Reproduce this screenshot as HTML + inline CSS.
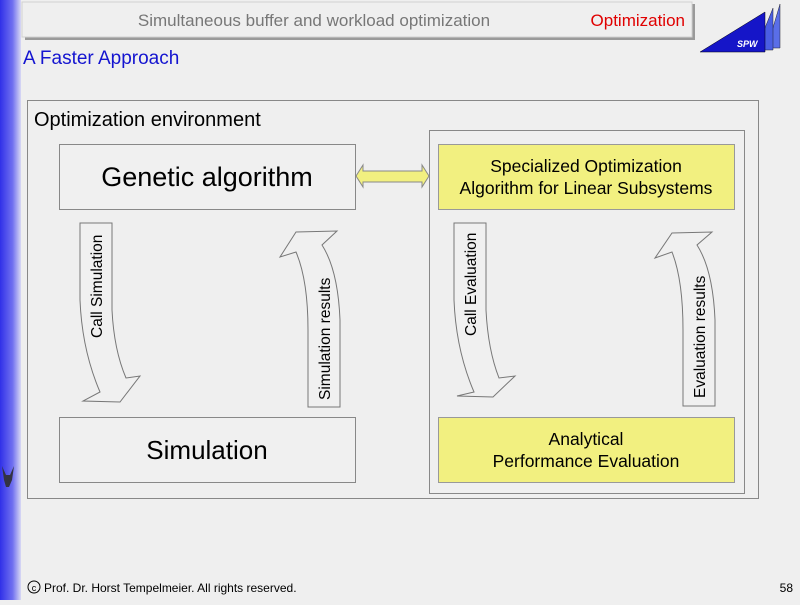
<!DOCTYPE html>
<html><head><meta charset="utf-8"><style>
body{margin:0;width:800px;height:600px;overflow:hidden;background:#efefef;font-family:"Liberation Sans",sans-serif}
</style></head><body>
<svg width="800" height="600" viewBox="0 0 800 600" xmlns="http://www.w3.org/2000/svg">
<defs><linearGradient id="lg" x1="0" x2="1"><stop offset="0" stop-color="#3030e8"/><stop offset="0.6" stop-color="#7070f0"/><stop offset="1" stop-color="#d8d8f4"/></linearGradient></defs>
<rect width="800" height="600" fill="#efefef"/>
<rect x="0" y="0" width="21" height="600" fill="url(#lg)"/>
<rect x="25" y="4" width="670" height="36" fill="#9a9a9a"/>
<rect x="22" y="2" width="670" height="35" fill="#efefef" stroke="#d0d0d0"/>
<text x="314" y="26" font-size="17" fill="#777" text-anchor="middle">Simultaneous buffer and workload optimization</text>
<text x="685" y="26" font-size="17" fill="#e00000" text-anchor="end">Optimization</text>
<polygon points="780,4 780,48 767,48" fill="#5a6ee8" stroke="#223" stroke-width="0.5"/>
<polygon points="773,8 773,50 756,50" fill="#4a5ee4" stroke="#223" stroke-width="0.5"/>
<polygon points="765,12 765,52 700,52" fill="#1515c8" stroke="#001" stroke-width="0.5"/>
<text x="737" y="47" font-size="9" font-weight="bold" font-style="italic" fill="#fff">SPW</text>
<text x="23" y="64" font-size="19" fill="#1414d0">A Faster Approach</text>
<rect x="27.5" y="100.5" width="731" height="398" fill="none" stroke="#888"/>
<rect x="429.5" y="130.5" width="315" height="363" fill="none" stroke="#888"/>
<text x="34" y="126" font-size="20" fill="#000">Optimization environment</text>
<rect x="59.5" y="144.5" width="296" height="65" fill="#f0f0f0" stroke="#888"/>
<text x="207" y="186" font-size="27" text-anchor="middle">Genetic algorithm</text>
<rect x="59.5" y="417.5" width="296" height="65" fill="#f0f0f0" stroke="#888"/>
<text x="207" y="459" font-size="26" text-anchor="middle">Simulation</text>
<rect x="438.5" y="144.5" width="296" height="65" fill="#f2f080" stroke="#999"/>
<text x="586" y="172" font-size="17.5" text-anchor="middle">Specialized Optimization</text>
<text x="586" y="194" font-size="17.5" text-anchor="middle">Algorithm for Linear Subsystems</text>
<rect x="438.5" y="417.5" width="296" height="65" fill="#f2f080" stroke="#999"/>
<text x="586" y="445" font-size="17.5" text-anchor="middle">Analytical</text>
<text x="586" y="467" font-size="17.5" text-anchor="middle">Performance Evaluation</text>
<polygon points="356,176 363,165 363,171 422,171 422,165 429,176 422,187 422,182 363,182 363,187" fill="#f2f080" stroke="#888"/>
<g fill="#f0f0f0" stroke="#777" stroke-width="1">
<path d="M80,223 L112,223 L112,310 Q114,350 126,378 L140,376 L120,402 L83,401 L100,392 Q82,350 80,300 Z"/>
<path d="M308,407 L340,407 L340,320 Q338,270 322,245 L337,231 L296,232 L280,257 L296,252 Q308,280 308,330 Z"/>
<path d="M454,223 L486,223 L486,310 Q488,350 499,378 L515,376 L493,397 L457,396 L474,392 Q456,350 454,300 Z"/>
<path d="M683,406 L715,406 L715,320 Q713,270 697,245 L712,232 L672,233 L655,258 L672,252 Q683,280 683,330 Z"/>
</g>
<g font-size="15.5" fill="#000">
<text transform="translate(102,338) rotate(-90)">Call Simulation</text>
<text transform="translate(330,400) rotate(-90)">Simulation results</text>
<text transform="translate(476,336) rotate(-90)">Call Evaluation</text>
<text transform="translate(705,398) rotate(-90)">Evaluation results</text>
</g>
<path d="M2,466 L6,475 L10,475 L14,466 L12,480 L9,487 L6,487 L4,480 Z" fill="#334"/>
<circle cx="34" cy="587" r="6" fill="none" stroke="#000"/>
<text x="34" y="591" font-size="9" text-anchor="middle">c</text>
<text x="44" y="592" font-size="12" fill="#000">Prof. Dr. Horst Tempelmeier. All rights reserved.</text>
<text x="793" y="592" font-size="12" fill="#000" text-anchor="end">58</text>
</svg>
</body></html>
